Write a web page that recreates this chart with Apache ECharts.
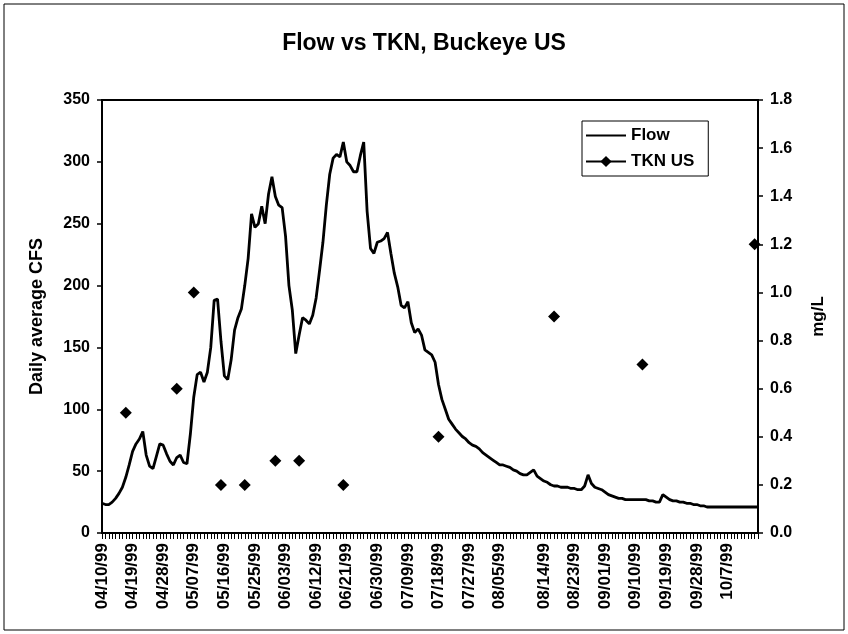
<!DOCTYPE html>
<html>
<head>
<meta charset="utf-8">
<title>Flow vs TKN, Buckeye US</title>
<script src="https://cdn.jsdelivr.net/npm/echarts@6/dist/echarts.min.js"></script>
<style>
  html, body { margin: 0; padding: 0; background: #fff; }
  #chart { width: 848px; height: 634px; }
</style>
</head>
<body>
<div id="chart"></div>
<script>
// a few days carry two rows in the sheet, which is why 08/05 -> 08/14 is wider on the axis
const doubledDays = ['08/08/99', '08/09/99', '08/10/99', '08/11/99']

// labels Excel printed under the axis (every 9th row)
const tickLabels = [
  '04/10/99', '04/19/99', '04/28/99', '05/07/99', '05/16/99', '05/25/99',
  '06/03/99', '06/12/99', '06/21/99', '06/30/99', '07/09/99', '07/18/99',
  '07/27/99', '08/05/99', '08/14/99', '08/23/99', '09/01/99', '09/10/99',
  '09/19/99', '09/28/99', '10/07/99'
]

// daily average flow, CFS (one value per row)
const flow = [
  24, 23, 23, 25, 28, 32, 37, 45, 55, 66,
  72, 76, 82, 63, 54, 52, 62, 72, 71, 64,
  58, 55, 61, 63, 57, 56, 80, 110, 128, 130,
  122, 130, 150, 188, 189, 155, 127, 124, 140, 164,
  174, 181, 200, 222, 258, 247, 250, 264, 250, 274,
  288, 272, 265, 263, 240, 200, 180, 145, 160, 174,
  172, 169, 176, 190, 212, 235, 265, 290, 303, 306,
  304, 316, 300, 297, 292, 292, 305, 316, 260, 230,
  226, 235, 236, 238, 243, 226, 210, 199, 184, 182,
  187, 170, 162, 165, 160, 148, 146, 144, 138, 120,
  108, 100, 92, 88, 84, 81, 78, 76, 73, 71,
  70, 68, 65, 63, 61, 59, 57, 55, 55, 54,
  53, 51, 50, 48, 47, 47, 49, 51, 46, 44,
  42, 41, 39, 38, 38, 37, 37, 37, 36, 36,
  35, 35, 38, 47, 40, 37, 36, 35, 33, 31,
  30, 29, 28, 28, 27, 27, 27, 27, 27, 27,
  27, 26, 26, 25, 25, 31, 29, 27, 26, 26,
  25, 25, 24, 24, 23, 23, 22, 22, 21, 21,
  21, 21, 21, 21, 21, 21, 21, 21, 21, 21,
  21, 21, 21, 21
]

// TKN samples, mg/L
const tknDates = [
  '04/17/99', '05/02/99', '05/07/99', '05/15/99', '05/22/99', '05/31/99',
  '06/07/99', '06/20/99', '07/18/99', '08/17/99', '09/12/99', '10/15/99'
]
const tknValues = [0.5, 0.6, 1.0, 0.2, 0.2, 0.3, 0.3, 0.2, 0.4, 0.9, 0.7, 1.2]

const pad = n => (n < 10 ? '0' : '') + n

// one row per day from 04/10/99, doubled days repeated
const categories = []
const day = new Date(1999, 3, 10)
while (categories.length < flow.length) {
  const s = pad(day.getMonth() + 1) + '/' + pad(day.getDate()) + '/99'
  categories.push(s)
  if (doubledDays.indexOf(s) >= 0) categories.push(s)
  day.setDate(day.getDate() + 1)
}

const tkn = categories.map(() => null)
tknDates.forEach((d, i) => {
  tkn[categories.indexOf(d)] = tknValues[i]
})

const font = 'Liberation Sans, Arial, sans-serif'
const chart = echarts.init(document.getElementById('chart'))

chart.setOption({
  backgroundColor: '#fff',
  animation: false,
  textStyle: { fontFamily: font, color: '#000' },
  title: {
    text: 'Flow vs TKN, Buckeye US',
    left: 'center',
    top: 27,
    textStyle: { fontFamily: font, fontSize: 23, fontWeight: 'bold', color: '#000' }
  },
  graphic: [{
    type: 'rect',
    shape: { x: 4, y: 4, width: 840, height: 626 },
    style: { fill: null, stroke: '#000', lineWidth: 1 },
    silent: true
  }],
  legend: {
    orient: 'vertical',
    left: 582,
    top: 121,
    padding: [6, 14, 6, 3],
    itemWidth: 40,
    itemHeight: 14,
    itemGap: 9,
    borderColor: '#000',
    borderWidth: 1,
    borderRadius: 0,
    textStyle: { fontFamily: font, fontSize: 17, fontWeight: 'bold', color: '#000' },
    data: [
      { name: 'Flow', itemStyle: { opacity: 0 } }, // plain line, no marker
      { name: 'TKN US' }
    ]
  },
  grid: {
    left: 102,
    right: 90,
    top: 100,
    bottom: 101,
    show: true,
    borderColor: '#000',
    borderWidth: 2
  },
  xAxis: {
    type: 'category',
    data: categories,
    boundaryGap: false,
    axisLine: { lineStyle: { color: '#000', width: 2 } },
    axisTick: {
      show: true,
      interval: 0,
      length: 6,
      lineStyle: { color: '#000', width: 1 }
    },
    axisLabel: {
      interval: (i, v) => tickLabels.indexOf(v) >= 0,
      rotate: 90,
      margin: 10,
      fontSize: 17,
      fontWeight: 'bold',
      color: '#000',
      formatter: v => (v === '10/07/99' ? '10/7/99' : v)
    },
    splitLine: { show: false }
  },
  yAxis: [{
    type: 'value',
    name: 'Daily average CFS',
    nameLocation: 'middle',
    nameRotate: 90,
    nameGap: 56,
    nameTextStyle: { fontFamily: font, fontSize: 18, fontWeight: 'bold', color: '#000' },
    min: 0,
    max: 350,
    interval: 50,
    axisLine: { show: true, lineStyle: { color: '#000', width: 2 } },
    axisTick: { show: true, length: 5, lineStyle: { color: '#000', width: 1.5 } },
    axisLabel: { fontSize: 16, fontWeight: 'bold', margin: 12, color: '#000' },
    splitLine: { show: false }
  }, {
    type: 'value',
    name: 'mg/L',
    nameLocation: 'middle',
    nameRotate: 90,
    nameGap: 52,
    nameTextStyle: { fontFamily: font, fontSize: 17, fontWeight: 'bold', color: '#000' },
    min: 0,
    max: 1.8,
    interval: 0.2,
    axisLine: { show: true, lineStyle: { color: '#000', width: 2 } },
    axisTick: { show: true, length: 5, lineStyle: { color: '#000', width: 1.5 } },
    axisLabel: { fontSize: 16, fontWeight: 'bold', margin: 12, color: '#000', formatter: v => v.toFixed(1) },
    splitLine: { show: false }
  }],
  series: [{
    name: 'Flow',
    type: 'line',
    data: flow,
    yAxisIndex: 0,
    showSymbol: false,
    symbol: 'none',
    lineStyle: { color: '#000', width: 2.8 },
    itemStyle: { color: '#000' }
  }, {
    name: 'TKN US',
    type: 'line',
    data: tkn,
    yAxisIndex: 1,
    connectNulls: false, // samples stand alone, no segments between them
    showSymbol: true,
    showAllSymbol: true,
    symbol: 'diamond',
    symbolSize: 12,
    lineStyle: { color: '#000', width: 2.8 },
    itemStyle: { color: '#000' }
  }]
})
</script>
</body>
</html>
